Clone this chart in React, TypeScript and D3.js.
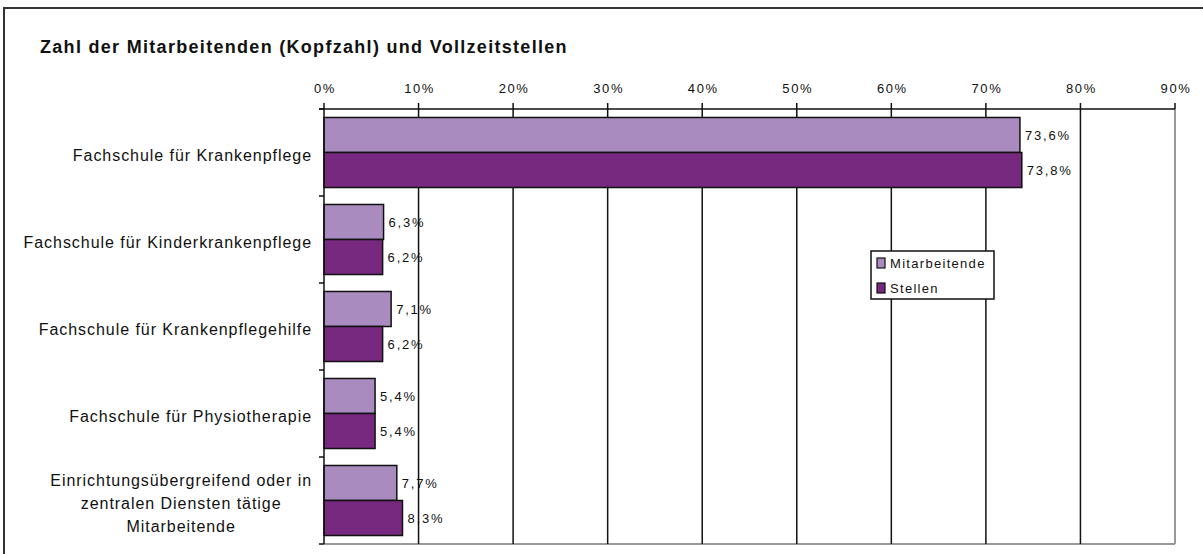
import React, { useEffect, useRef } from "react";
import * as d3 from "d3";

const categories = [
  "Fachschule für Krankenpflege",
  "Fachschule für Kinderkrankenpflege",
  "Fachschule für Krankenpflegehilfe",
  "Fachschule für Physiotherapie",
  "Einrichtungsübergreifend oder in\nzentralen Diensten tätige\nMitarbeitende",
];
const seriesNames = ["Mitarbeitende", "Stellen"];
const mitarbeitende = [73.6, 6.3, 7.1, 5.4, 7.7];
const stellen = [73.8, 6.2, 6.2, 5.4, 8.3];
const xTicks = [0, 10, 20, 30, 40, 50, 60, 70, 80, 90];
const title = "Zahl der Mitarbeitenden (Kopfzahl) und Vollzeitstellen";
const colors = ["#a98bbf", "#77297f"];

const W = 1203;
const H = 554;
const FONT = "'Liberation Sans', Arial, sans-serif";

export default function App() {
  const ref = useRef<SVGSVGElement | null>(null);

  useEffect(() => {
    const svg = d3.select(ref.current);
    svg.selectAll("*").remove();

    const plot = { left: 324, right: 1175, top: 109, bottom: 544 };
    const x = d3.scaleLinear().domain([0, 90]).range([plot.left, plot.right]);
    const y = d3
      .scaleBand<string>()
      .domain(categories)
      .range([plot.top, plot.bottom])
      .paddingInner(0.195)
      .paddingOuter(0.0975);
    const ySub = d3.scaleBand<string>().domain(seriesNames).range([0, y.bandwidth()]);
    const step = (plot.bottom - plot.top) / categories.length;

    // outer frame
    svg
      .append("rect")
      .attr("x", 4)
      .attr("y", 8)
      .attr("width", W + 10)
      .attr("height", H + 10)
      .attr("fill", "#fff")
      .attr("stroke", "#333")
      .attr("stroke-width", 2);

    // title
    svg
      .append("text")
      .attr("x", 40)
      .attr("y", 53)
      .attr("font-family", FONT)
      .attr("font-weight", "bold")
      .attr("font-size", 18)
      .attr("letter-spacing", 1.3)
      .attr("fill", "#111")
      .text(title);

    // plot border (gray) right and bottom
    svg
      .append("line")
      .attr("x1", plot.left)
      .attr("x2", plot.right)
      .attr("y1", plot.bottom)
      .attr("y2", plot.bottom)
      .attr("stroke", "#999")
      .attr("stroke-width", 2);
    svg
      .append("line")
      .attr("x1", plot.right)
      .attr("x2", plot.right)
      .attr("y1", plot.top)
      .attr("y2", plot.bottom)
      .attr("stroke", "#999")
      .attr("stroke-width", 2);

    // grid lines (black)
    svg
      .append("g")
      .selectAll("line")
      .data(xTicks.filter((t) => t > 0 && t < 90))
      .join("line")
      .attr("x1", (d) => x(d))
      .attr("x2", (d) => x(d))
      .attr("y1", plot.top)
      .attr("y2", plot.bottom)
      .attr("stroke", "#111")
      .attr("stroke-width", 1.5);

    // top axis
    const topAxis = svg.append("g");
    topAxis
      .append("line")
      .attr("x1", plot.left - 5)
      .attr("x2", plot.right)
      .attr("y1", plot.top)
      .attr("y2", plot.top)
      .attr("stroke", "#111")
      .attr("stroke-width", 1.5);
    topAxis
      .selectAll("line.tick")
      .data(xTicks)
      .join("line")
      .attr("class", "tick")
      .attr("x1", (d) => x(d))
      .attr("x2", (d) => x(d))
      .attr("y1", plot.top - 6)
      .attr("y2", plot.top)
      .attr("stroke", "#111")
      .attr("stroke-width", 1.5);
    topAxis
      .selectAll("text")
      .data(xTicks)
      .join("text")
      .attr("x", (d) => x(d) + 1)
      .attr("y", 88)
      .attr("dominant-baseline", "central")
      .attr("text-anchor", "middle")
      .attr("font-family", FONT)
      .attr("font-size", 13)
      .attr("letter-spacing", 1.6)
      .attr("fill", "#111")
      .text((d) => `${d}%`);

    // bars
    const data = categories.map((c, i) => ({
      cat: c,
      values: [
        { s: seriesNames[0], v: mitarbeitende[i], c: colors[0] },
        { s: seriesNames[1], v: stellen[i], c: colors[1] },
      ],
    }));
    const groups = svg
      .append("g")
      .selectAll("g")
      .data(data)
      .join("g")
      .attr("transform", (d) => `translate(0,${y(d.cat)})`);
    groups
      .selectAll("rect")
      .data((d) => d.values)
      .join("rect")
      .attr("x", x(0))
      .attr("y", (d) => ySub(d.s) as number)
      .attr("width", (d) => x(d.v) - x(0))
      .attr("height", ySub.bandwidth())
      .attr("fill", (d) => d.c)
      .attr("stroke", "#111")
      .attr("stroke-width", 1.5);
    groups
      .selectAll("text")
      .data((d) => d.values)
      .join("text")
      .attr("x", (d) => x(d.v) + 5)
      .attr("y", (d) => (ySub(d.s) as number) + ySub.bandwidth() / 2 + 1)
      .attr("dominant-baseline", "central")
      .attr("font-family", FONT)
      .attr("font-size", 13)
      .attr("letter-spacing", 1.8)
      .attr("fill", "#111")
      .text((d) => `${d.v.toFixed(1).replace(".", ",")}%`);

    // left axis
    svg
      .append("line")
      .attr("x1", plot.left)
      .attr("x2", plot.left)
      .attr("y1", plot.top)
      .attr("y2", plot.bottom)
      .attr("stroke", "#111")
      .attr("stroke-width", 1.5);
    svg
      .append("g")
      .selectAll("line")
      .data(d3.range(categories.length + 1))
      .join("line")
      .attr("x1", plot.left - 5)
      .attr("x2", plot.left)
      .attr("y1", (i) => plot.top + i * step)
      .attr("y2", (i) => plot.top + i * step)
      .attr("stroke", "#111")
      .attr("stroke-width", 1.5);

    // category labels
    const rightEdge = 312;
    const lineH = 23;
    categories.forEach((c, i) => {
      const lines = c.split("\n");
      const cy = plot.top + (i + 0.5) * step + 3;
      const g = svg.append("g");
      const texts = lines.map((ln, k) =>
        g
          .append("text")
          .attr("y", cy + (k - (lines.length - 1) / 2) * lineH)
          .attr("dominant-baseline", "central")
          .attr("font-family", FONT)
          .attr("font-size", 16)
          .attr("letter-spacing", 0.95)
          .attr("fill", "#111")
          .text(ln)
      );
      const maxW = d3.max(texts, (t) => (t.node() as SVGTextElement).getComputedTextLength()) || 0;
      texts.forEach((t) => {
        t.attr("text-anchor", "middle").attr("x", rightEdge - maxW / 2);
      });
    });

    // legend
    const leg = svg.append("g").attr("transform", "translate(871,251)");
    leg
      .append("rect")
      .attr("width", 123)
      .attr("height", 48)
      .attr("fill", "#fff")
      .attr("stroke", "#111")
      .attr("stroke-width", 1.5);
    seriesNames.forEach((s, i) => {
      const cy = 12 + i * 25;
      leg
        .append("rect")
        .attr("x", 6)
        .attr("y", cy - 5)
        .attr("width", 8)
        .attr("height", 10)
        .attr("fill", colors[i])
        .attr("stroke", "#111")
        .attr("stroke-width", 1.2);
      leg
        .append("text")
        .attr("x", 19)
        .attr("y", cy)
        .attr("dominant-baseline", "central")
        .attr("font-family", FONT)
        .attr("font-size", 13)
        .attr("letter-spacing", 1.3)
        .attr("fill", "#111")
        .text(s);
    });
  }, []);

  return (
    <svg
      ref={ref}
      width={W}
      height={H}
      style={{ position: "absolute", left: 0, top: 0, background: "#fff" }}
    />
  );
}
